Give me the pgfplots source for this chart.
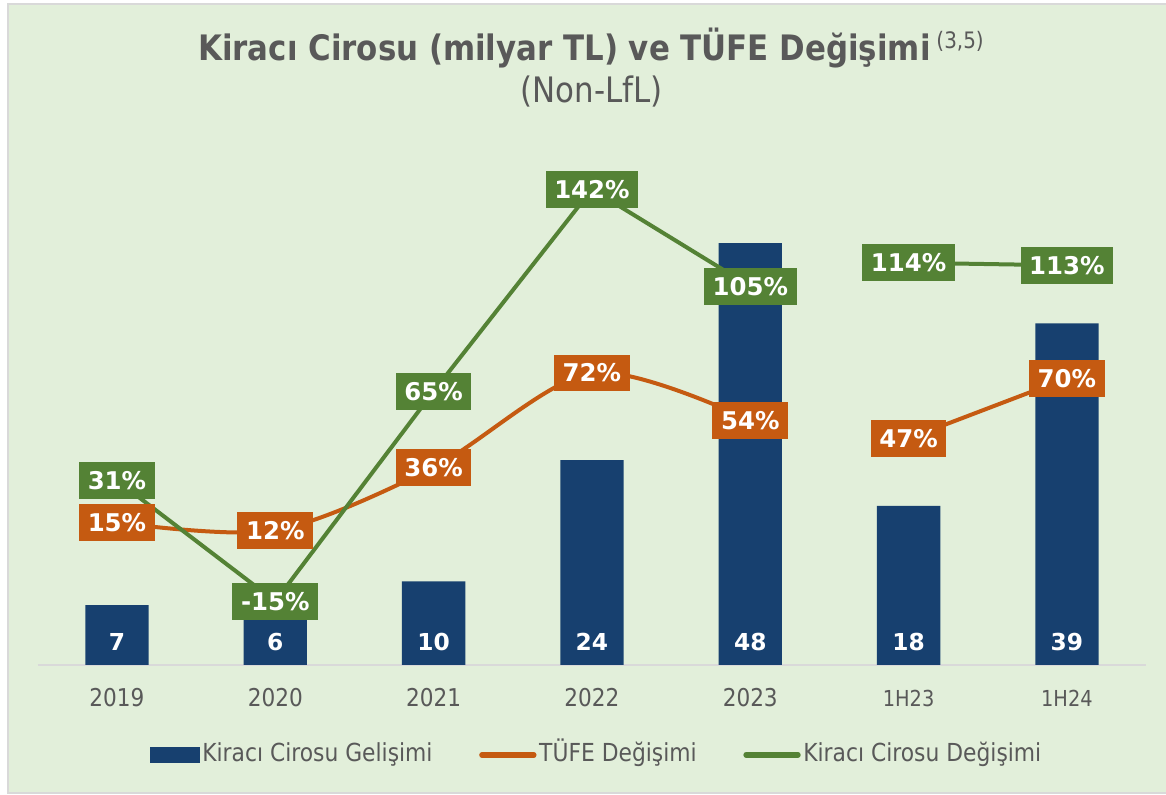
\documentclass[border=0pt]{standalone}
\usepackage{pgfplots}
\pgfplotsset{compat=1.18}
\usepackage{pgfplotstable}
\usepackage{fontspec}
\setmainfont{DejaVu Sans}
\newfontfamily\tah{DejaVu Sans}[FakeStretch=0.88]
\definecolor{barblue}{HTML}{17406F}
\definecolor{tufe}{HTML}{C55A11}
\definecolor{ciro}{HTML}{548235}
\definecolor{bg}{HTML}{E2EFDA}
\definecolor{txt}{HTML}{595959}
\definecolor{axisgray}{HTML}{D9D9D9}

\pgfplotstableread{
x y ly lab
0 6.8 2.67 7
1 6.0 2.67 6
2 9.5 2.67 10
3 23.3 2.67 24
4 48.0 2.67 48
5 18.1 2.67 18
6 38.85 2.67 39
}\bars
\pgfplotstableread{
x v
0 15
1 12
2 36
3 72
4 54
}\tufeA
\pgfplotstableread{
x v
5 47
6 70
}\tufeB
\pgfplotstableread{
x v
0 31
1 -15
2 65
3 142
4 105
}\ciroA
\pgfplotstableread{
x v
5 114
6 113
}\ciroB

\pgfplotsset{
  common/.style={
    at={(28.35pt,97.5pt)}, anchor=south west,
    width=831.2pt, height=378.75pt, scale only axis,
    xmin=-0.5, xmax=6.5, clip=false,
  },
  lab/.style={
    draw=none, forget plot, nodes near coords={\pgfplotspointmeta\%},
    point meta=explicit symbolic,
    every node near coord/.style={anchor=center, fill=#1, text=white,
      font=\bfseries\fontsize{18.3}{18.3}\selectfont, inner xsep=6.5pt,
      inner ysep=0pt, minimum height=27.5pt},
  },
}

\begin{document}
\begin{tikzpicture}
\useasboundingbox (0,0) rectangle (874.5pt,596.25pt);
\fill[white] (0,0) rectangle (874.5pt,596.25pt);
\filldraw[fill=bg, draw=axisgray, line width=1.2pt] (6pt,1.5pt) rectangle (880pt,593.25pt);

\node[anchor=base, text=txt, inner sep=0pt] at (443.25pt,551pt)
  {\tah\bfseries\fontsize{26.3}{26.3}\selectfont Kiracı Cirosu (milyar TL) ve TÜFE Değişimi\,\raisebox{8.5pt}{\mdseries\fontsize{17}{17}\selectfont(3,5)}};
\node[anchor=base, text=txt, inner sep=0pt] at (443.6pt,519.5pt)
  {\tah\fontsize{26.3}{26.3}\selectfont (Non-LfL)};

\begin{axis}[common,
  ymin=0, ymax=57.45,
  axis x line=bottom, axis y line=none,
  x axis line style={draw=axisgray, line width=1.5pt, -},
  xtick={0,...,6},
  xticklabels={2019,2020,2021,2022,2023,{\fontsize{16.5}{16.5}\selectfont 1H23},{\fontsize{16.5}{16.5}\selectfont 1H24}},
  xticklabel style={font=\tah\fontsize{18.4}{18.4}\selectfont, text=txt, anchor=center, yshift=-24.75pt},
  major tick length=0pt,
]
\addplot[ybar, bar width=47.5pt, fill=barblue, draw=none] table[x=x,y=y]{\bars};
\addplot[draw=none, nodes near coords, point meta=explicit symbolic,
  every node near coord/.style={anchor=center, text=white, font=\bfseries\fontsize{17.5}{17.5}\selectfont}]
  table[x=x,y=ly,meta=lab]{\bars};
\end{axis}

\begin{axis}[common,
  ymin=-39.29, ymax=153.16,
  hide axis,
  legend columns=3,
  legend style={at={(0.5046,-0.178)}, anchor=center, draw=none, fill=none,
    font=\tah\fontsize{18.6}{18.6}\selectfont, text=txt,
    nodes={text height=14pt, text depth=4pt},
    /tikz/every even column/.append style={column sep=33pt},
    /tikz/every odd column/.append style={column sep=0pt}},
]
\addlegendimage{legend image code/.code={\fill[barblue] (0pt,-5.5pt) rectangle (36.75pt,5.5pt);}}
\addlegendentry{Kiracı Cirosu Gelişimi}
\addlegendimage{legend image code/.code={\draw[tufe, line width=4pt, line cap=round] (2pt,0pt) -- (41pt,0pt);}}
\addlegendentry{TÜFE Değişimi}
\addlegendimage{legend image code/.code={\draw[ciro, line width=4pt, line cap=round] (2pt,0pt) -- (41pt,0pt);}}
\addlegendentry{Kiracı Cirosu Değişimi}

\addplot[tufe, line width=3pt, smooth, tension=0.5, forget plot] table[x=x,y=v]{\tufeA};
\addplot[tufe, line width=3pt, smooth, tension=0.5, forget plot] table[x=x,y=v]{\tufeB};
\addplot[ciro, line width=3pt, forget plot] table[x=x,y=v]{\ciroA};
\addplot[ciro, line width=3pt, forget plot] table[x=x,y=v]{\ciroB};

\addplot[lab=tufe] table[x=x,y=v,meta=v]{\tufeA};
\addplot[lab=tufe] table[x=x,y=v,meta=v]{\tufeB};
\addplot[lab=ciro] table[x=x,y=v,meta=v]{\ciroA};
\addplot[lab=ciro] table[x=x,y=v,meta=v]{\ciroB};
\end{axis}
\end{tikzpicture}
\end{document}
